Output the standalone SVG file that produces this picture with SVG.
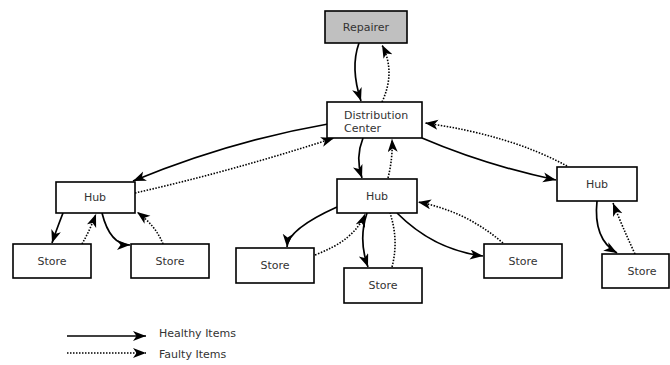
<svg xmlns="http://www.w3.org/2000/svg" width="670" height="365" viewBox="0 0 670 365">
<style>
.box{fill:#fff;stroke:#000;stroke-width:1.6}
.rep{fill:#c0c0c0;stroke:#000;stroke-width:1.6}
.t{font-family:"DejaVu Sans",sans-serif;font-size:11px;fill:#333}
.c{text-anchor:middle}
.h{fill:none;stroke:#000;stroke-width:1.7;marker-end:url(#ah)}
.f{fill:none;stroke:#000;stroke-width:1.6;stroke-dasharray:1.5 1.5;marker-end:url(#ah)}
.fn{fill:none;stroke:#000;stroke-width:1.6;stroke-dasharray:1.5 1.5}
</style>
<defs>
<marker id="ah" markerWidth="14" markerHeight="12" refX="13" refY="5" orient="auto" markerUnits="userSpaceOnUse">
<path d="M0,0 L13,5 L0,10 L3.5,5 z" fill="#000"/>
</marker>
</defs>
<rect width="670" height="365" fill="#fff"/>
<g id="connectors">
<path class="h" d="M359,43 Q350,68 361,101"/>
<path class="f" d="M382,102 Q396,72 382,45"/>
<path class="h" d="M328,124 Q230,141 133,181"/>
<path class="f" d="M135,193 Q232,171 334,138"/>
<path class="h" d="M363,138 Q355,158 362,178"/>
<path class="f" d="M388,178 Q393,158 392,139"/>
<path class="h" d="M422,138 Q485,165 556,180"/>
<path class="f" d="M567,166 Q510,135 425,123"/>
<path class="h" d="M63,213 Q56,231 52,243"/>
<path class="f" d="M82,244 Q90,230 96,214"/>
<path class="h" d="M102,213 Q110,245 130,245"/>
<path class="f" d="M163,244 Q156,226 137,212"/>
<path class="h" d="M337,207 Q288,229 287,247"/>
<path class="f" d="M315,255 Q355,240 365,214"/>
<path class="h" d="M367,213 Q358,240 368,267"/>
<path class="fn" d="M392,267 Q399,240 390,213"/>
<path class="h" d="M397,213 Q434,250 483,256"/>
<path class="f" d="M503,243 Q466,211 418,202"/>
<path class="h" d="M597,201 Q593,239 617,253"/>
<path class="f" d="M635,254 Q622,226 613,203"/>
</g>
<g id="repairer"><rect class="rep" x="325" y="11" width="82" height="32"/><text class="t c" x="366" y="31">Repairer</text></g>
<g id="dc"><rect class="box" x="327" y="102" width="95" height="36"/><text class="t" x="344" y="119">Distribution</text><text class="t" x="344" y="132">Center</text></g>
<g id="hub-left"><rect class="box" x="56" y="182" width="79" height="31"/><text class="t c" x="95" y="201">Hub</text></g>
<g id="hub-mid"><rect class="box" x="337" y="179" width="80" height="34"/><text class="t c" x="377" y="200">Hub</text></g>
<g id="hub-right"><rect class="box" x="557" y="167" width="80" height="34"/><text class="t c" x="597" y="188">Hub</text></g>
<g id="store-1"><rect class="box" x="13" y="244" width="78" height="34"/><text class="t c" x="52" y="265">Store</text></g>
<g id="store-2"><rect class="box" x="131" y="244" width="78" height="34"/><text class="t c" x="170" y="265">Store</text></g>
<g id="store-3"><rect class="box" x="236" y="248" width="78" height="35"/><text class="t c" x="275" y="269">Store</text></g>
<g id="store-4"><rect class="box" x="344" y="268" width="78" height="35"/><text class="t c" x="383" y="289">Store</text></g>
<g id="store-5"><rect class="box" x="484" y="244" width="78" height="34"/><text class="t c" x="523" y="265">Store</text></g>
<g id="store-6"><rect class="box" x="602" y="254" width="67" height="34"/><text class="t c" x="642" y="275">Store</text></g>
<g id="legend">
<path class="h" d="M67,336 L146,336"/>
<path class="f" d="M67,353 L146,353"/>
<text class="t" x="159" y="337">Healthy Items</text>
<text class="t" x="159" y="358">Faulty Items</text>
</g>
</svg>
